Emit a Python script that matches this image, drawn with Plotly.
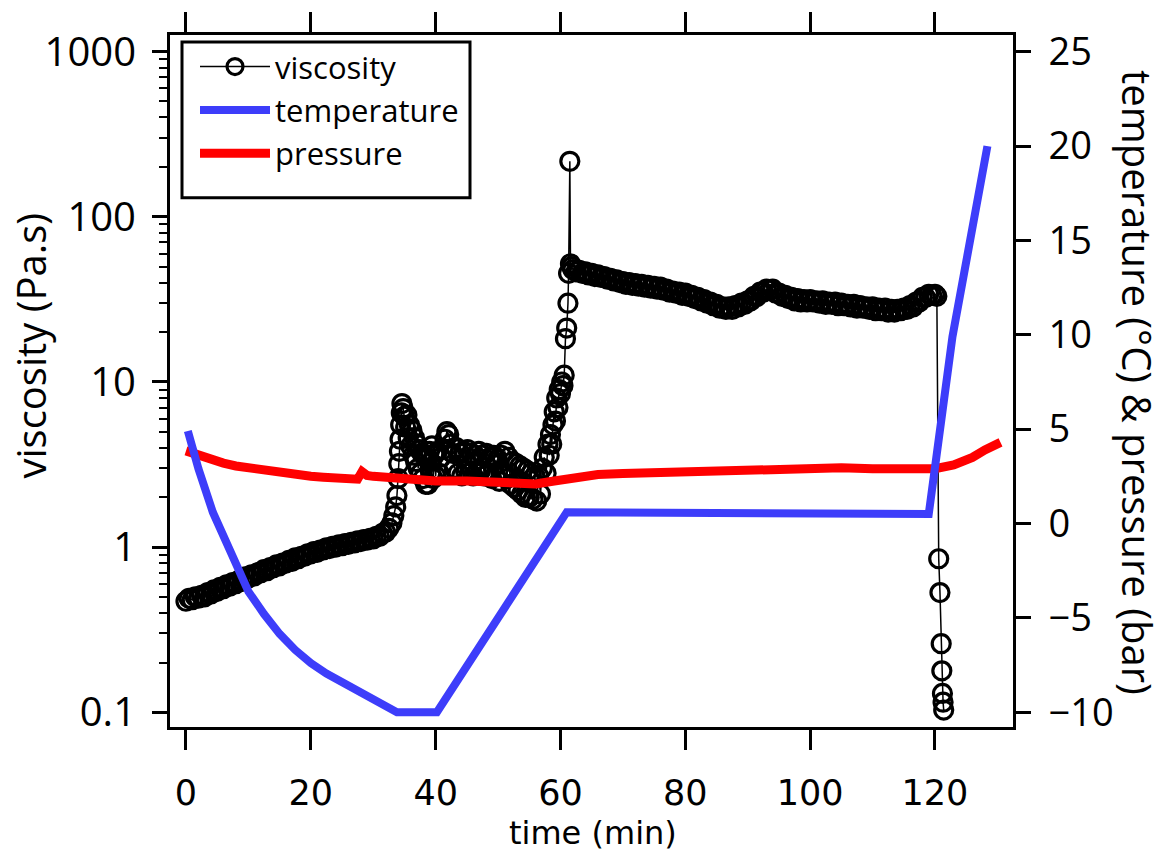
import plotly.graph_objects as go

# ---------------- data ----------------
visc_time = [
    0, 0.5, 1, 1.5, 2, 2.5, 3, 3.5, 4, 4.5, 5, 5.5, 6, 6.5, 7, 7.5, 8, 8.5, 9, 9.5,
    10, 10.5, 11, 11.5, 12, 12.5, 13, 13.5, 14, 14.5, 15, 15.5, 16, 16.5, 17, 17.5,
    18, 18.5, 19, 19.5, 20, 20.5, 21, 21.5, 22, 22.5, 23, 23.5, 24, 24.5, 25, 25.5,
    26, 26.5, 27, 27.5, 28, 28.5, 29, 29.5, 30, 30.5, 31, 31.5, 32, 32.5,
    33.0, 33.3, 33.6, 33.8, 34.0, 34.1, 34.2, 34.3, 34.4, 34.5, 34.6, 34.8, 35.0,
    35.2, 35.4, 35.6, 35.8, 36.0, 36.2, 36.4, 36.6, 36.8, 37.0, 37.2, 37.4, 37.6,
    37.8, 38.0, 38.2, 38.4, 38.6, 38.8, 39.0, 39.2, 39.4, 39.6, 39.8, 40.0, 40.3,
    40.6, 40.9, 41.2, 41.5, 41.8, 42.1, 42.4, 42.7, 43.0, 43.3, 43.6, 43.9, 44.2,
    44.5, 44.8, 45.1, 45.4, 45.7, 46.0, 46.3, 46.6, 46.9, 47.2, 47.5, 47.8, 48.1,
    48.4, 48.7, 49.0, 49.3, 49.6, 49.9, 50.2, 50.5, 50.8, 51.1, 51.4, 51.7, 52.0,
    52.3, 52.6, 52.9, 53.2, 53.5, 53.8, 54.1, 54.4, 54.7, 55.0, 55.3, 55.6, 55.9,
    56.2, 56.5, 56.8, 57.1, 57.4, 57.7, 58.0, 58.2, 58.4, 58.6, 58.8, 59.0, 59.2,
    59.4, 59.6, 59.8, 60.0, 60.2, 60.4, 60.6, 60.8, 61.0, 61.2, 61.3, 61.5, 61.6,
    61.8,
    62, 62.5, 63, 63.5, 64, 64.5, 65, 65.5, 66, 66.5, 67, 67.5, 68, 68.5, 69, 69.5,
    70, 70.5, 71, 71.5, 72, 72.5, 73, 73.5, 74, 74.5, 75, 75.5, 76, 76.5, 77, 77.5,
    78, 78.5, 79, 79.5, 80, 80.5, 81, 81.5, 82, 82.5, 83, 83.5, 84, 84.5, 85, 85.5,
    86, 86.5, 87, 87.5, 88, 88.5, 89, 89.5, 90, 90.5, 91, 91.5, 92, 92.5, 93, 93.5,
    94, 94.5, 95, 95.5, 96, 96.5, 97, 97.5, 98, 98.5, 99, 99.5, 100, 100.5, 101,
    101.5, 102, 102.5, 103, 103.5, 104, 104.5, 105, 105.5, 106, 106.5, 107, 107.5,
    108, 108.5, 109, 109.5, 110, 110.5, 111, 111.5, 112, 112.5, 113, 113.5, 114,
    114.5, 115, 115.5, 116, 116.5, 117, 117.5, 118, 118.5, 119, 119.5, 120, 120.3,
    120.6, 120.8, 121.0, 121.1, 121.2, 121.3, 121.4,
]
visc_values = [
    0.47, 0.49, 0.48, 0.50, 0.49, 0.51, 0.50, 0.53, 0.52, 0.55, 0.54, 0.57, 0.56,
    0.59, 0.58, 0.61, 0.60, 0.63, 0.62, 0.66, 0.65, 0.68, 0.67, 0.70, 0.70, 0.73,
    0.72, 0.75, 0.75, 0.78, 0.77, 0.80, 0.80, 0.83, 0.82, 0.86, 0.85, 0.88, 0.88,
    0.91, 0.91, 0.94, 0.93, 0.96, 0.96, 0.99, 0.98, 1.01, 1.00, 1.03, 1.02, 1.05,
    1.04, 1.07, 1.06, 1.09, 1.08, 1.11, 1.10, 1.13, 1.12, 1.16, 1.16, 1.21, 1.23,
    1.30,
    1.40, 1.55, 1.75, 2.05, 2.6, 3.2, 3.8, 4.5, 5.5, 6.5, 7.4, 6.9, 6.2,
    5.3, 6.3, 4.6, 5.5, 4.1, 5.1, 3.6, 4.6, 3.3, 4.2, 3.0, 3.9, 2.8,
    3.7, 2.6, 3.6, 2.4, 3.5, 2.4, 3.8, 2.8, 4.1, 2.6, 3.6, 2.7, 3.8,
    2.8, 3.5, 3.9, 4.5, 5.0, 4.8, 4.2, 3.7, 3.0, 4.0, 2.8, 3.7, 2.7,
    3.8, 2.9, 3.9, 2.8, 3.7, 2.7, 3.6, 2.8, 3.8, 2.9, 3.6, 2.7, 3.7,
    2.8, 3.5, 2.6, 3.6, 2.7, 3.4, 2.5, 3.6, 2.8, 3.8, 2.6, 3.5, 2.4,
    3.3, 2.3, 3.2, 2.2, 3.1, 2.1, 3.0, 2.0, 2.9, 2.0, 2.8, 1.95, 2.7,
    1.9, 2.7, 2.1, 3.0, 3.5, 2.8, 4.2, 3.6, 4.8, 4.2, 5.5, 6.6, 5.8,
    8.0, 7.0, 9.0, 8.5, 10.0, 9.5, 11.0, 18.3, 21.2, 30.0, 45.5, 217, 52,
    50,
    48, 46.5, 47.5, 45.5, 46.5, 44.5, 45.5, 43.5, 44.5, 43, 43.5, 42, 42.5, 41, 41.5, 40,
    40.5, 39, 40, 38.5, 39.5, 38, 39, 37.5, 38.5, 37, 38, 36.5, 37.5, 36, 36.5, 35,
    35.5, 34.5, 35, 33.5, 34.5, 33, 33.5, 32, 32.5, 31, 31.5, 30, 30.5, 29, 29.5, 28,
    28.5, 27.5, 28.5, 27.5, 29, 28.5, 30, 29.5, 31, 31, 33, 33, 35, 35, 36.5, 36,
    36.5, 34.5, 34.5, 33, 33.5, 32, 32.5, 31, 32, 30.5, 31.5, 30.5, 31.5, 30.5, 31,
    30, 31, 29.5, 30.5, 29.5, 30.5, 29, 30, 29, 29.5, 28.5, 29.5, 28,
    29, 28, 28.5, 27.5, 28.5, 27, 28, 27, 28, 26.5, 27.5, 26.5, 27.5,
    27, 28, 27.5, 29, 28.5, 30.5, 30.5, 32.5, 32.5, 34, 33.5, 34, 33,
    0.85, 0.53, 0.26, 0.178, 0.13, 0.115, 0.103,
]

temp_time = [0.3, 2.0, 4.3, 7.5, 10.0, 12.5, 15.0, 17.5, 20.0, 22.5, 25.0, 28.0,
             31.0, 33.8, 40.2, 61.0, 119.0, 119.7, 122.8, 128.4]
temp_values = [4.9, 2.9, 0.6, -1.9, -3.6, -4.8, -5.85, -6.7, -7.4, -7.95, -8.4, -8.9,
               -9.45, -10.0, -10.0, 0.6, 0.5, 2.1, 9.9, 20.0]

pres_time = [0, 2, 4, 6, 8, 10, 12, 14, 16, 18, 20, 22, 24, 26, 27.5, 28.2, 29, 30,
             32, 35, 40, 45, 50, 53, 56, 59, 62, 66, 70, 75, 80, 85, 90, 95, 100,
             105, 110, 115, 120, 123, 126, 128, 130.5]
pres_values = [3.85, 3.6, 3.4, 3.2, 3.05, 2.95, 2.8, 2.7, 2.6, 2.55, 2.5, 2.45, 2.4,
               2.35, 2.35, 2.75, 2.55, 2.5, 2.45, 2.35, 2.25, 2.25, 2.15, 2.1, 2.1,
               2.25, 2.45, 2.6, 2.65, 2.7, 2.8, 2.85, 2.85, 2.95, 3.0, 2.95, 2.9,
               2.9, 2.9, 3.1, 3.5, 3.9, 4.3]

x_ticks = [0, 20, 40, 60, 80, 100, 120]
y_ticks = [0.1, 1, 10, 100, 1000]
y_ticktext = ["0.1", "1", "10", "100", "1000"]
y2_ticks = [-10, -5, 0, 5, 10, 15, 20, 25]

# ---------------- layout constants ----------------
W, H = 1169, 851
ML, MR, MT, MB = 170, 156, 25, 124
FONT = "'Open Sans', Roboto, sans-serif"
XFONT = "'DejaVu Sans', sans-serif"
BLUE = "#3d3dfa"
RED = "#ff0000"

minor_vals = [m * 10 ** e for e in range(-1, 3) for m in range(2, 10)]


def px2paper_x(px):
    return (px - ML) / (W - ML - MR)


def px2paper_y(py):
    return (H - MB - py) / (H - MT - MB)


fig = go.Figure()

fig.add_trace(go.Scatter(
    x=visc_time, y=visc_values, name="viscosity", mode="lines+markers",
    line=dict(color="black", width=1.5),
    marker=dict(symbol="circle-open", size=18, color="black", line=dict(width=3.2)),
    legendrank=1,
))
fig.add_trace(go.Scatter(
    x=pres_time, y=pres_values, name="pressure", mode="lines", yaxis="y2",
    line=dict(color=RED, width=9), legendrank=3,
))
fig.add_trace(go.Scatter(
    x=temp_time, y=temp_values, name="temperature", mode="lines", yaxis="y2",
    line=dict(color=BLUE, width=8), legendrank=2,
))

axis_common = dict(
    showline=True, linecolor="black", linewidth=3, ticks="outside",
    tickcolor="black", tickwidth=3, showgrid=False, zeroline=False,
)

fig.update_layout(
    width=W, height=H,
    margin=dict(l=ML, r=MR, t=MT, b=MB),
    paper_bgcolor="white", plot_bgcolor="white",
    font=dict(family=FONT, size=30, color="black"),
    xaxis=dict(
        range=[-2.56, 132.5], tickvals=x_ticks, ticklen=20, mirror="ticks",
        ticklabelstandoff=13, tickfont=dict(family=XFONT, size=35, color="black"),
        **axis_common,
    ),
    yaxis=dict(
        type="log", range=[-1.0896, 3.1015], tickvals=y_ticks, ticktext=y_ticktext,
        ticklen=15, ticklabelstandoff=8,
        tickfont=dict(family=FONT, size=40, color="black"),
        minor=dict(tickvals=minor_vals, ticks="outside", ticklen=8, tickwidth=2,
                   tickcolor="black", showgrid=False),
        **axis_common,
    ),
    yaxis2=dict(
        overlaying="y", side="right", range=[-10.784, 25.888], tickvals=y2_ticks,
        ticklen=15, ticklabelstandoff=10,
        tickfont=dict(family=FONT, size=38, color="black"),
        **axis_common,
    ),
    legend=dict(
        x=px2paper_x(195), y=px2paper_y(30), xanchor="left", yanchor="top",
        bgcolor="rgba(0,0,0,0)", borderwidth=0,
        font=dict(family=FONT, size=31, color="black"),
        itemwidth=70, tracegroupgap=0,
    ),
    showlegend=True,
    shapes=[dict(
        type="rect", xref="paper", yref="paper",
        x0=px2paper_x(182), x1=px2paper_x(470),
        y0=px2paper_y(190), y1=px2paper_y(32),
        line=dict(color="black", width=3), fillcolor="white", layer="above",
    )],
)

fig.add_annotation(
    text="time (min)", xref="paper", yref="paper",
    x=px2paper_x(593), y=px2paper_y(835), showarrow=False,
    font=dict(family=XFONT, size=32, color="black"),
    xanchor="center", yanchor="middle",
)
fig.add_annotation(
    text="viscosity (Pa.s)", xref="paper", yref="paper",
    x=px2paper_x(31), y=px2paper_y(340), showarrow=False, textangle=-90,
    font=dict(family=FONT, size=40, color="black"),
    xanchor="center", yanchor="middle",
)
fig.add_annotation(
    text="temperature (°C) & pressure (bar)", xref="paper", yref="paper",
    x=px2paper_x(1137), y=px2paper_y(377), showarrow=False, textangle=90,
    font=dict(family=FONT, size=40, color="black"),
    xanchor="center", yanchor="middle",
)

fig.write_html("out.html")
